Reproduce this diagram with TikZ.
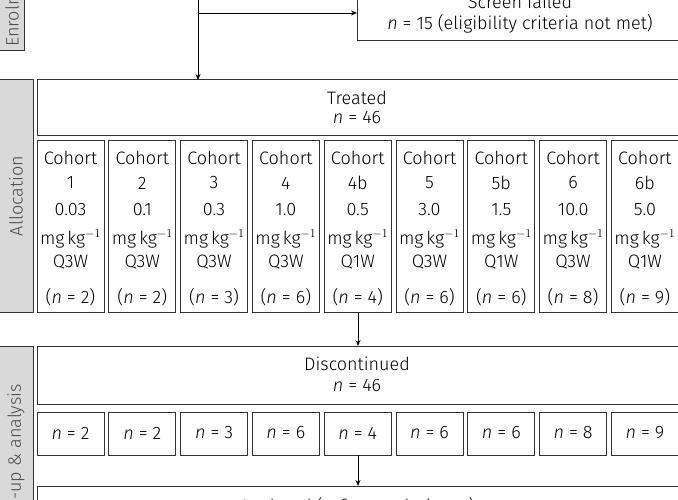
\documentclass[tikz,border=0pt]{standalone}
\usepackage{fontspec}
\setmainfont{Fira Sans Light}
\usetikzlibrary{arrows.meta}
\tikzset{
  box/.style={draw=black!80,line width=1pt,fill=white},
  side/.style={draw=black!80,line width=1pt,fill=black!15},
  lbl/.style={font=\fontsize{18}{20}\selectfont,inner sep=0pt},
  sidelbl/.style={font=\fontsize{18}{20}\selectfont,text=black!70,rotate=90,inner sep=0pt},
  flow/.style={-{Stealth[length=6pt,width=5pt]},line width=0.8pt}
}
\begin{document}
\begin{tikzpicture}[x=1pt,y=-1pt]
  \useasboundingbox (0,0) rectangle (678,500);
  \clip (0,0) rectangle (678,500);

  % side bars
  \draw[side] (-2,-20) rectangle (24,51);
  \node[sidelbl,anchor=west] (enr) at (12,47) {Enrolment};
  \draw[side] (-2,80) rectangle (33,312);
  \node[sidelbl] (alloc) at (16,196) {Allocation};
  \draw[side] (-2,346) rectangle (33,530);
  \node[sidelbl,anchor=east] (fup) at (16,384) {Follow-up \& analysis};

  % screen failed
  \draw[box] (357,-30) rectangle (690,41);
  \node[lbl] (sf) at (520,2) {Screen failed};
  \node[lbl] (sfn) at (520,24) {\textit{n} = 15 (eligibility criteria not met)};
  \coordinate (top) at (198,-5);
  \coordinate (split) at (198,13);
  \coordinate (sfin) at (357,13);

  % treated
  \draw[box] (37,80) rectangle (690,136);
  \node[lbl] (tr) at (357,98) {Treated};
  \node[lbl] (trn) at (357,118) {\textit{n} = 46};
  \coordinate (trin) at (198,80);

  % cohorts
  \foreach \c/\dose/\sch/\n [count=\i from 0] in
    {1/0.03/Q3W/2, 2/0.1/Q3W/2, 3/0.3/Q3W/3, 4/1.0/Q3W/6, 4b/0.5/Q1W/4,
     5/3.0/Q3W/6, 5b/1.5/Q1W/6, 6/10.0/Q3W/8, 6b/5.0/Q1W/9} {
    \pgfmathsetmacro{\xl}{37+71.8*\i}
    \pgfmathsetmacro{\xm}{\xl+33.5}
    \draw[box] (\xl,141) rectangle ++(67,171);
    \node[lbl] (coh\i) at (\xm,158) {Cohort};
    \node[lbl] (cid\i) at (\xm,183) {\c};
    \node[lbl] (dose\i) at (\xm,210) {\dose};
    \node[lbl] (unit\i) at (\xm,239) {mg\,kg$^{-1}$};
    \node[lbl] (sch\i) at (\xm,262) {\sch};
    \node[lbl] (cn\i) at (\xm,297) {(\textit{n} = \n)};
    \draw[box] (\xl,412) rectangle ++(67,43);
    \node[lbl] (dn\i) at (\xm,433) {\textit{n} = \n};
  }
  \coordinate (c4bout) at (358,312);
  \coordinate (c4bdn) at (358,455);

  % discontinued
  \draw[box] (37,346) rectangle (690,404);
  \node[lbl] (dc) at (357,364) {Discontinued};
  \node[lbl] (dcn) at (357,386) {\textit{n} = 46};
  \coordinate (dcin) at (358,346);

  % analysed
  \draw[box] (37,486) rectangle (690,540);
  \node[lbl] (an) at (357,507) {Analysed (safety analysis set)};
  \coordinate (anin) at (358,486);

  % connectors
  \draw[flow] (top) -- (trin);
  \draw[flow] (split) -- (sfin);
  \draw[flow] (c4bout) -- (dcin);
  \draw[flow] (c4bdn) -- (anin);
\end{tikzpicture}
\end{document}
